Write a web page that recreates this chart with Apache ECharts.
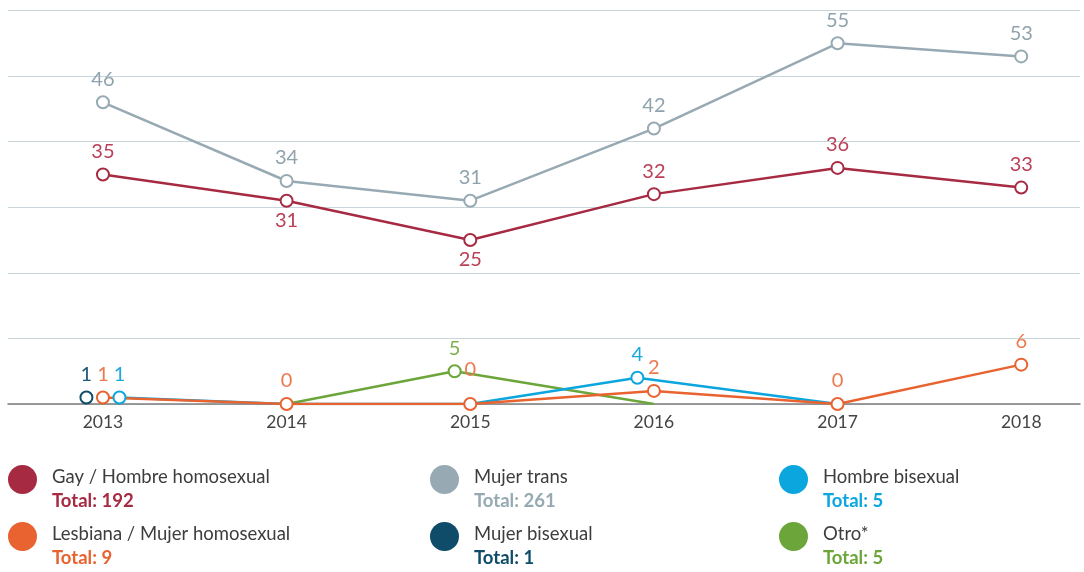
<!DOCTYPE html>
<html>
<head>
<meta charset="utf-8">
<script src="https://cdn.jsdelivr.net/npm/echarts@6/dist/echarts.min.js"></script>
<style>
  html, body { margin: 0; padding: 0; background: #ffffff; }
  #chart { width: 1084px; height: 572px; }
</style>
</head>
<body>
<div id="chart"></div>
<script>
// ---- data ----
const years = [2013, 2014, 2015, 2016, 2017, 2018];
const gay = [35, 31, 25, 32, 36, 33];
const trans = [46, 34, 31, 42, 55, 53];
const lesbiana = [1, 0, 0, 2, 0, 6];
const hombreBis = [1, 0, 0, 4, 0, null];
const mujerBis = [1, null, null, null, null, null];
const otro = [null, 0, 5, 0, null, null];
const yTicks = [0, 10, 20, 30, 40, 50, 60];

const names = {
  gay: 'Gay / Hombre homosexual',
  trans: 'Mujer trans',
  hombreBis: 'Hombre bisexual',
  lesbiana: 'Lesbiana / Mujer homosexual',
  mujerBis: 'Mujer bisexual',
  otro: 'Otro*'
};

// ---- styling (kept apart from data) ----
const colors = {
  gay: '#a62b42',
  trans: '#97a9b2',
  hombreBis: '#0ba6de',
  lesbiana: '#e8632f',
  mujerBis: '#0e4c69',
  otro: '#6ca63b'
};
const labelColors = {
  gay: '#bb3f57',
  trans: '#8fa3ad',
  hombreBis: '#1aa8dd',
  lesbiana: '#ec7a4c',
  mujerBis: '#21597a',
  otro: '#7cb04c'
};
// horizontal nudges (in x-axis units) used in the original to separate overlapping points
const nudge = {
  hombreBis: { 0: 0.09, 3: -0.09 },
  mujerBis: { 0: -0.09 },
  otro: { 2: -0.085 }
};
const labelBelow = { gay: [1, 2] };
const labelLift = { lesbiana: { 2: 11 } };
const FONT = 'Lato';

function sum(a) { return a.reduce((s, v) => s + (v == null ? 0 : v), 0); }

function makeSeries(key, vals, hideZero) {
  const c = colors[key];
  const data = [];
  vals.forEach((v, i) => {
    if (v == null) return;
    const dx = (nudge[key] && nudge[key][i]) || 0;
    const below = labelBelow[key] && labelBelow[key].indexOf(i) >= 0;
    const lift = (labelLift[key] && labelLift[key][i]) || 0;
    const hidden = hideZero && v === 0;
    data.push({
      value: [years[i] + dx, v],
      symbolSize: hidden ? 0 : 12,
      label: {
        show: !hidden,
        position: below ? 'bottom' : 'top',
        distance: below ? 3 : 6,
        offset: [0, -lift]
      }
    });
  });
  return {
    name: names[key],
    type: 'line',
    data: data,
    symbol: 'emptyCircle',
    symbolSize: 12,
    showAllSymbol: true,
    color: c,
    lineStyle: { color: c, width: 2.5 },
    itemStyle: { color: c, borderWidth: 1.8 },
    label: {
      show: true,
      color: labelColors[key],
      fontFamily: FONT,
      fontSize: 20,
      formatter: p => String(p.value[1])
    },
    emphasis: { disabled: true },
    animation: false
  };
}

const series = [
  makeSeries('trans', trans, false),
  makeSeries('gay', gay, false),
  makeSeries('otro', otro, true),
  makeSeries('hombreBis', hombreBis, true),
  makeSeries('mujerBis', mujerBis, true),
  makeSeries('lesbiana', lesbiana, false)
];

const totals = {
  gay: sum(gay), trans: sum(trans), hombreBis: sum(hombreBis),
  lesbiana: sum(lesbiana), mujerBis: sum(mujerBis), otro: sum(otro)
};

const legendLayout = [
  { key: 'gay', left: 8, top: 465 },
  { key: 'trans', left: 430, top: 465 },
  { key: 'hombreBis', left: 779, top: 465 },
  { key: 'lesbiana', left: 8, top: 522 },
  { key: 'mujerBis', left: 430, top: 522 },
  { key: 'otro', left: 779, top: 522 }
];

const legends = legendLayout.map(l => ({
  show: true,
  left: l.left,
  top: l.top,
  padding: 0,
  orient: 'horizontal',
  selectedMode: false,
  icon: 'circle',
  itemWidth: 29,
  itemHeight: 29,
  itemStyle: { color: colors[l.key], borderWidth: 0 },
  data: [names[l.key]],
  formatter: n => '{n|' + n + '}\n{t|Total: ' + totals[l.key] + '}',
  textStyle: {
    padding: [20, 0, 0, 10],
    rich: {
      n: { color: '#3d3d3d', fontFamily: FONT, fontSize: 18.5, lineHeight: 24 },
      t: { color: colors[l.key], fontFamily: FONT, fontSize: 18.5, fontWeight: 'bold', lineHeight: 24 }
    }
  }
}));

const chart = echarts.init(document.getElementById('chart'), null, { renderer: 'canvas' });
chart.setOption({
  backgroundColor: '#ffffff',
  animation: false,
  textStyle: { fontFamily: FONT },
  grid: { left: 8, right: 4, top: 10.5, bottom: 168, containLabel: false },
  xAxis: {
    type: 'value',
    min: 2012.483,
    max: 2018.32,
    splitLine: { show: false },
    axisTick: { show: false },
    axisLine: { show: true, lineStyle: { color: '#7d7d7d', width: 1.5 } },
    axisLabel: {
      customValues: years,
      formatter: v => String(v),
      color: '#444444',
      fontFamily: FONT,
      fontSize: 17.5,
      margin: 9
    }
  },
  yAxis: {
    type: 'value',
    min: yTicks[0],
    max: yTicks[yTicks.length - 1],
    interval: 10,
    axisLabel: { show: false },
    axisLine: { show: false },
    axisTick: { show: false },
    splitLine: { show: true, lineStyle: { color: '#c8d6dc', width: 1 } }
  },
  legend: legends,
  series: series
});
</script>
</body>
</html>
